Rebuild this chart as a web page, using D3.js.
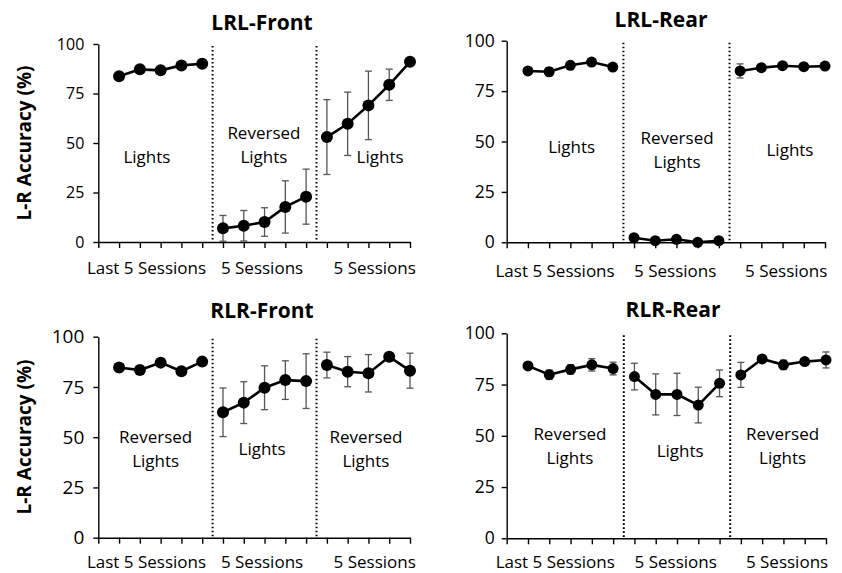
<!DOCTYPE html>
<html>
<head>
<meta charset="utf-8">
<script src="https://cdn.jsdelivr.net/npm/d3@7"></script>
<style>
  body { margin: 0; background: #fff; }
  text { font-family: "Open Sans", "Liberation Sans", sans-serif; fill: #000; }
</style>
</head>
<body>
<div id="chart"></div>
<script>
// session index on the x axis (0 = origin tick only)
const sessions = [1, 2, 3, 4, 5, 6, 7, 8, 9, 10, 11, 12, 13, 14, 15];
const segments = [[1, 5], [6, 10], [11, 15]];
const phaseBreaks = [5.5, 10.5];
const yTicks = [0, 25, 50, 75, 100];
const xAxisLabels = ["Last 5 Sessions", "5 Sessions", "5 Sessions"];
const panelTitles = ["LRL-Front", "LRL-Rear", "RLR-Front", "RLR-Rear"];
const yLabel = "L-R Accuracy (%)";

const lrlPhases = [["Lights"], ["Reversed", "Lights"], ["Lights"]];
const rlrPhases = [["Reversed", "Lights"], ["Lights"], ["Reversed", "Lights"]];

// mean accuracy and error (+/-) per session
const lrlFrontMean = [83.7, 87.2, 86.7, 89.2, 90.0, 6.9, 8.2, 10.1, 17.7, 22.9, 53.0, 59.7, 69.0, 79.4, 91.0];
const lrlFrontErr  = [0, 0, 0, 0, 0, 6.5, 7.7, 7.2, 13.2, 13.9, 18.9, 16.0, 17.3, 7.9, 0];
const lrlRearMean  = [85.0, 84.6, 87.8, 89.4, 86.9, 2.3, 0.8, 1.5, 0, 0.8, 85.0, 86.6, 87.6, 87.1, 87.4];
const lrlRearErr   = [1, 2, 1, 1, 1, 0.5, 0.5, 0.5, 0.5, 0.5, 3.5, 1, 1, 1.5, 1];
const rlrFrontMean = [84.7, 83.4, 87.1, 82.8, 87.6, 62.4, 67.2, 74.6, 78.4, 77.9, 85.9, 82.6, 81.8, 90.0, 83.1];
const rlrFrontErr  = [1, 2, 1, 1, 1, 12.1, 10.4, 10.9, 9.6, 13.6, 6.4, 7.5, 9.3, 2, 8.7];
const rlrRearMean  = [84.1, 79.8, 82.4, 84.6, 82.8, 78.9, 70.2, 70.2, 65.0, 75.6, 79.7, 87.5, 84.6, 86.2, 87.0];
const rlrRearErr   = [1, 2.3, 2.3, 3, 3.1, 6.5, 10, 10.3, 8.7, 6.5, 6.1, 1, 2.3, 1, 3.9];

const width = 842, height = 573;

// layout of each panel (pixel frame + where the phase notes sit, in data units)
const panels = [
  { title: panelTitles[0], mean: lrlFrontMean, err: lrlFrontErr, phases: lrlPhases,
    x0: 98.3, x1: 410, y0: 242, y1: 44, titleX: 262, titleY: 30, yLabel: true, labelY: 143,
    tickFont: 16, tickPad: 9, r: 6, xLabelDy: 32,
    xLabelPos: [2.32, 7.88, 13.3], notePos: [[2.34, 43], [7.97, 55], [13.56, 43]] },
  { title: panelTitles[1], mean: lrlRearMean, err: lrlRearErr, phases: lrlPhases,
    x0: 506.7, x1: 825, y0: 242.3, y1: 40.7, titleX: 661, titleY: 27, yLabel: false,
    tickFont: 17.5, tickPad: 7, r: 5.5, xLabelDy: 35,
    xLabelPos: [2.28, 7.94, 13.17], notePos: [[3.06, 47.4], [8.03, 51.7], [13.35, 45.8]] },
  { title: panelTitles[2], mean: rlrFrontMean, err: rlrFrontErr, phases: rlrPhases,
    x0: 98.3, x1: 410, y0: 537.7, y1: 336.7, titleX: 262, titleY: 318, yLabel: true, labelY: 437,
    tickFont: 19, tickPad: 9, r: 6, xLabelDy: 30,
    xLabelPos: [2.32, 7.88, 13.3], notePos: [[2.76, 50.2], [7.88, 44.1], [12.88, 50.2]] },
  { title: panelTitles[3], mean: rlrRearMean, err: rlrRearErr, phases: rlrPhases,
    x0: 506.7, x1: 826, y0: 538.3, y1: 333.3, titleX: 673, titleY: 317, yLabel: false,
    tickFont: 17.5, tickPad: 7, r: 5.5, xLabelDy: 29.5,
    xLabelPos: [2.28, 7.94, 13.17], notePos: [[2.97, 50.9], [8.15, 42.7], [12.96, 50.9]] }
];

const svg = d3.select("#chart").append("svg")
  .attr("width", width)
  .attr("height", height);

panels.forEach((p) => {
  const x = d3.scaleLinear().domain([0, 15]).range([p.x0, p.x1]);
  const y = d3.scaleLinear().domain([0, 100]).range([p.y0, p.y1]);
  const g = svg.append("g");

  // phase separators
  g.selectAll(".sep")
    .data(phaseBreaks)
    .enter()
    .append("line")
    .attr("x1", (d) => x(d)).attr("x2", (d) => x(d))
    .attr("y1", y(100) + 2).attr("y2", y(0))
    .attr("stroke", "#000")
    .attr("stroke-width", 2)
    .attr("stroke-dasharray", "1.6,2.4");

  // axes
  const yAxis = d3.axisLeft(y).tickValues(yTicks).tickSize(5).tickSizeOuter(0).tickPadding(p.tickPad);
  const yg = g.append("g")
    .attr("transform", "translate(" + p.x0 + ",0)")
    .call(yAxis);
  yg.selectAll("text").style("font-size", p.tickFont + "px");

  const xAxis = d3.axisBottom(x).tickValues(d3.range(0, 16)).tickSize(6).tickSizeOuter(0).tickFormat("");
  g.append("g")
    .attr("transform", "translate(0," + p.y0 + ")")
    .call(xAxis);

  g.selectAll(".domain, .tick line").attr("stroke", "#000").attr("stroke-width", 1.4);

  // x group labels
  g.selectAll(".xlab")
    .data(xAxisLabels)
    .enter()
    .append("text")
    .attr("x", (d, i) => x(p.xLabelPos[i]))
    .attr("y", p.y0 + p.xLabelDy)
    .attr("text-anchor", "middle")
    .style("font-size", "17px")
    .text((d) => d);

  // phase notes
  p.phases.forEach((lines, i) => {
    const t = g.append("text")
      .attr("text-anchor", "middle")
      .style("font-size", "17px");
    lines.forEach((s, j) => {
      t.append("tspan")
        .attr("x", x(p.notePos[i][0]))
        .attr("y", y(p.notePos[i][1]) + 6 + j * 24)
        .text(s);
    });
  });

  // error bars
  const pts = sessions.map((s, i) => ({ s: s, m: p.mean[i], e: p.err[i] }));
  const eb = g.selectAll(".err")
    .data(pts.filter((d) => d.e > 0))
    .enter()
    .append("g")
    .attr("stroke", "#555")
    .attr("stroke-width", 1.3);
  eb.append("line")
    .attr("x1", (d) => x(d.s)).attr("x2", (d) => x(d.s))
    .attr("y1", (d) => y(Math.min(100, d.m + d.e)))
    .attr("y2", (d) => y(Math.max(0, d.m - d.e)));
  eb.append("line")
    .attr("x1", (d) => x(d.s) - 3.5).attr("x2", (d) => x(d.s) + 3.5)
    .attr("y1", (d) => y(Math.min(100, d.m + d.e)))
    .attr("y2", (d) => y(Math.min(100, d.m + d.e)));
  eb.append("line")
    .attr("x1", (d) => x(d.s) - 3.5).attr("x2", (d) => x(d.s) + 3.5)
    .attr("y1", (d) => y(Math.max(0, d.m - d.e)))
    .attr("y2", (d) => y(Math.max(0, d.m - d.e)));

  // lines within each phase
  const line = d3.line().x((d) => x(d.s)).y((d) => y(d.m));
  segments.forEach((seg) => {
    g.append("path")
      .datum(pts.filter((d) => d.s >= seg[0] && d.s <= seg[1]))
      .attr("d", line)
      .attr("fill", "none")
      .attr("stroke", "#000")
      .attr("stroke-width", 2.6);
  });

  g.selectAll("circle")
    .data(pts)
    .enter()
    .append("circle")
    .attr("cx", (d) => x(d.s))
    .attr("cy", (d) => y(d.m))
    .attr("r", p.r)
    .attr("fill", "#000");

  // title
  g.append("text")
    .attr("x", p.titleX)
    .attr("y", p.titleY)
    .attr("text-anchor", "middle")
    .style("font-size", "21px")
    .style("font-weight", "bold")
    .text(p.title);

  if (p.yLabel) {
    g.append("text")
      .attr("transform", "translate(31," + p.labelY + ") rotate(-90)")
      .attr("text-anchor", "middle")
      .style("font-size", "19px")
      .style("font-weight", "bold")
      .text(yLabel);
  }
});
</script>
</body>
</html>
